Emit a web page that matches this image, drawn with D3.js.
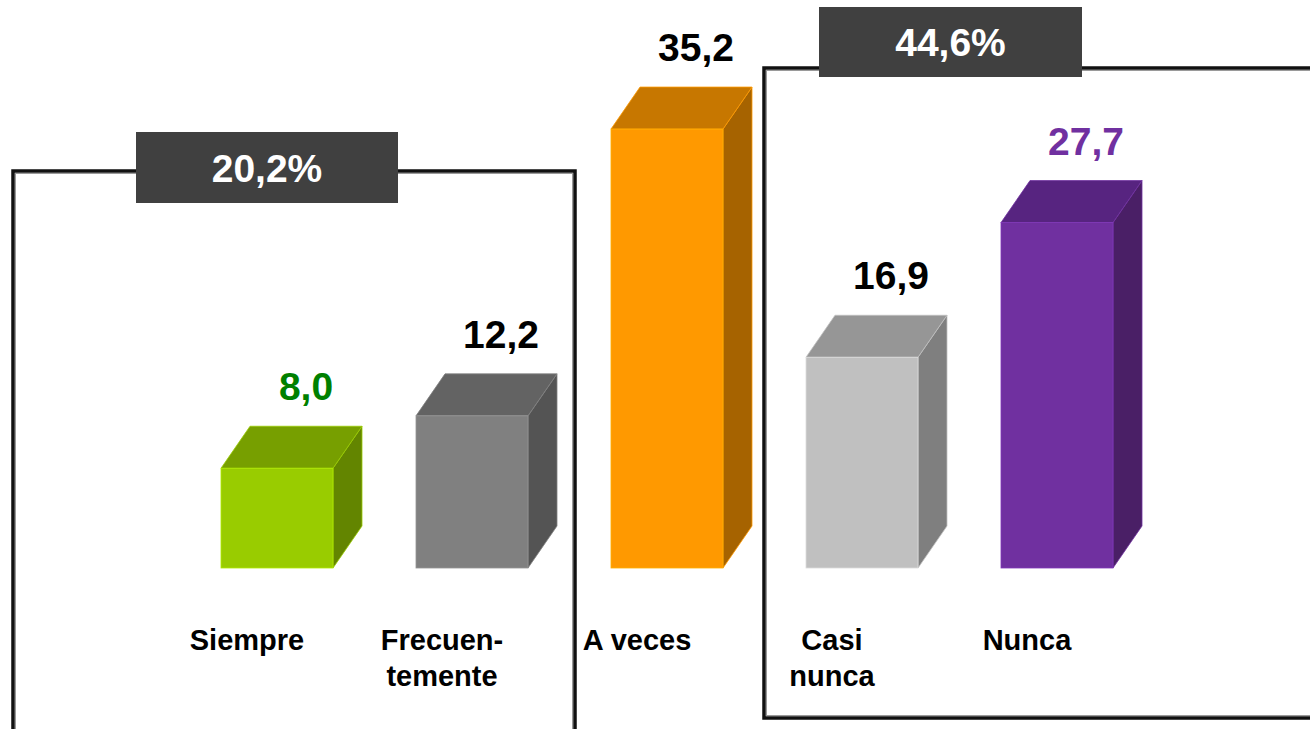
<!DOCTYPE html>
<html>
<head>
<meta charset="utf-8">
<script src="https://cdn.jsdelivr.net/npm/d3@7"></script>
<style>
  body { margin: 0; background: #fff; }
  svg { display: block; font-family: "Liberation Sans", Arial, sans-serif; }
</style>
</head>
<body>
<div id="chart"></div>
<script>
// Datos del gráfico
const categories = ["Siempre", "Frecuen-\ntemente", "A veces", "Casi\nnunca", "Nunca"];
const values = [8.0, 12.2, 35.2, 16.9, 27.7];
const valueLabels = ["8,0", "12,2", "35,2", "16,9", "27,7"];

// Grupos (cajas con total)
const groupLabels = ["20,2%", "44,6%"];

// Colores: cara frontal, superior, lateral, etiqueta
const frontColors = ["#99cc00", "#808080", "#ff9900", "#c0c0c0", "#7030a0"];
const topColors = ["#779f00", "#636363", "#c77700", "#969696", "#572480"];
const sideColors = ["#638500", "#545454", "#a66300", "#7f7f7f", "#4a1f66"];
const labelColors = ["#008000", "#000000", "#000000", "#000000", "#7030a0"];

const width = 1310;
const height = 729;
const baseY = 568;
const depth = { dx: 29, dy: -42 };

const svg = d3
  .select("#chart")
  .append("svg")
  .attr("width", width)
  .attr("height", height);

// Escalas
const x = d3
  .scaleBand()
  .domain(categories)
  .range([179.5, 1154.5])
  .paddingInner(1 - 112 / 195)
  .paddingOuter((1 - 112 / 195) / 2);

const y = d3.scaleLinear().domain([0, 40]).range([baseY, baseY - 40 * 12.47]);

// Cajas de grupo
const boxes = [
  { label: groupLabels[0], x0: 13, x1: 575, y0: 171, y1: 740, tag: [136, 132, 262, 71] },
  { label: groupLabels[1], x0: 764, x1: 1330, y0: 68, y1: 718, tag: [819, 7, 263, 70] },
];

boxes.forEach((b) => {
  svg
    .append("rect")
    .attr("x", b.x0)
    .attr("y", b.y0)
    .attr("width", b.x1 - b.x0)
    .attr("height", b.y1 - b.y0)
    .attr("fill", "none")
    .attr("stroke", "#111")
    .attr("stroke-width", 3.5);
  svg
    .append("rect")
    .attr("x", b.x0 + 2.5)
    .attr("y", b.y0 + 2.5)
    .attr("width", b.x1 - b.x0 - 5)
    .attr("height", b.y1 - b.y0 - 5)
    .attr("fill", "none")
    .attr("stroke", "#9a9a9a")
    .attr("stroke-width", 1);
});

// Barras 3D
const bars = svg
  .selectAll("g.bar")
  .data(values)
  .enter()
  .append("g")
  .attr("class", "bar");

bars.each(function (v, i) {
  const g = d3.select(this);
  const x0 = x(categories[i]);
  const w = x.bandwidth();
  const yt = y(v);
  const yb = y(0);
  const { dx, dy } = depth;

  // cara lateral
  g.append("path")
    .attr("d", `M${x0 + w},${yt}L${x0 + w + dx},${yt + dy}L${x0 + w + dx},${yb + dy}L${x0 + w},${yb}Z`)
    .attr("fill", sideColors[i])
    .attr("stroke", frontColors[i])
    .attr("stroke-width", 0.8);

  // cara superior
  g.append("path")
    .attr("d", `M${x0},${yt}L${x0 + dx},${yt + dy}L${x0 + w + dx},${yt + dy}L${x0 + w},${yt}Z`)
    .attr("fill", topColors[i])
    .attr("stroke", frontColors[i])
    .attr("stroke-width", 0.8);

  // cara frontal
  g.append("rect")
    .attr("x", x0)
    .attr("y", yt)
    .attr("width", w)
    .attr("height", yb - yt)
    .attr("fill", frontColors[i])
    .attr("stroke", d3.color(frontColors[i]).brighter(0.4))
    .attr("stroke-width", 0.8);

  // valor
  g.append("text")
    .attr("x", x0 + dx + w / 2)
    .attr("y", yt + dy - 26)
    .attr("text-anchor", "middle")
    .attr("font-size", "39px")
    .attr("font-weight", "bold")
    .attr("fill", labelColors[i])
    .text(valueLabels[i]);

  // categoría
  const lines = categories[i].split("\n");
  const t = g
    .append("text")
    .attr("x", x0 + w / 2 - 30)
    .attr("y", 650)
    .attr("text-anchor", "middle")
    .attr("font-size", "29px")
    .attr("font-weight", "bold")
    .attr("fill", "#000");
  lines.forEach((ln, k) => {
    t.append("tspan")
      .attr("x", x0 + w / 2 - 30)
      .attr("dy", k === 0 ? 0 : 36)
      .text(ln);
  });
});

// Etiquetas de grupo (encima de las cajas)
boxes.forEach((b) => {
  const [tx, ty, tw, th] = b.tag;
  svg
    .append("rect")
    .attr("x", tx)
    .attr("y", ty)
    .attr("width", tw)
    .attr("height", th)
    .attr("fill", "#404040");
  svg
    .append("text")
    .attr("x", tx + tw / 2)
    .attr("y", ty + th / 2 + 14)
    .attr("text-anchor", "middle")
    .attr("font-size", "39px")
    .attr("font-weight", "bold")
    .attr("fill", "#fff")
    .text(b.label);
});
</script>
</body>
</html>
